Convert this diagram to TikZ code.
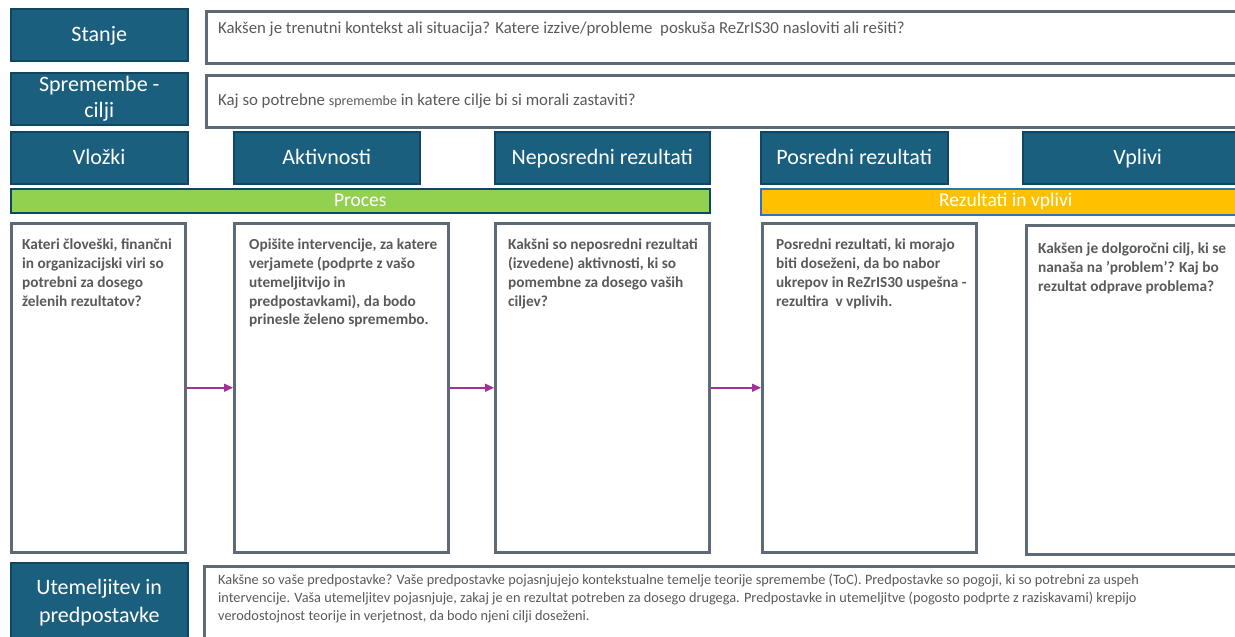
\documentclass[tikz,border=0pt]{standalone}
\usepackage{fontspec}
\setmainfont{Carlito}
\usetikzlibrary{arrows.meta}
\definecolor{kopf}{HTML}{1B5F7F}
\definecolor{kopfrob}{HTML}{0F4662}
\definecolor{siva}{HTML}{5E6A76}
\definecolor{besedilo}{HTML}{5A5A5A}
\definecolor{zelena}{HTML}{92D050}
\definecolor{rumena}{HTML}{FFC000}
\definecolor{modra}{HTML}{2E75B6}
\definecolor{vijola}{HTML}{A2309A}
\begin{document}
\begin{tikzpicture}[x=1pt, y=-1pt,
  glava/.style={draw=kopfrob, line width=1.5pt, fill=kopf, text=white,
    font=\fontsize{22}{28}\selectfont, align=center, inner sep=0pt,
    anchor=north west, minimum height=52pt},
  enovrst/.style={glava, text height=14pt, text depth=0pt},
  okvir/.style={draw=siva, line width=2.5pt, fill=white, inner sep=0pt, anchor=north west},
  vpis/.style={text=besedilo, inner sep=0pt, align=left},
  krepko/.style={vpis, anchor=north west, font=\fontsize{15.3}{18.7}\selectfont\bfseries},
  pas/.style={line width=1.5pt, text=white, inner sep=0pt, anchor=north west,
    minimum height=25pt, font=\fontsize{19.5}{22}\selectfont},
  tok/.style={draw=vijola, line width=1.5pt, -{Triangle[length=9pt,width=8pt]}}]
\clip (0,0) rectangle (1235,637);
\fill[white] (0,0) rectangle (1235,637);

% zgornji vrstici
\node[enovrst, minimum width=177pt] (stanje) at (10,8) {Stanje};
\node[okvir, minimum width=1050pt, minimum height=52pt] (stanjeOpis) at (205,10) {};
\node[vpis, anchor=west, font=\fontsize{16.8}{19}\selectfont] (stanjeTxt)
  at ([shift={(13,-8)}]stanjeOpis.west)
  {Kakšen je trenutni kontekst ali situacija? Katere izzive/probleme\ \ poskuša ReZrIS30 nasloviti ali rešiti?};

\node[glava, minimum width=177pt, font=\fontsize{22}{26}\selectfont] (cilji) at (10,72) {Spremembe -\\cilji};
\node[okvir, minimum width=1050pt, minimum height=52pt] (ciljiOpis) at (205,74) {};
\node[vpis, anchor=west, font=\fontsize{16.8}{19}\selectfont] (ciljiTxt)
  at ([shift={(13,0)}]ciljiOpis.west)
  {Kaj so potrebne {\fontsize{14}{16}\selectfont spremembe} in katere cilje bi si morali zastaviti?};

% glave stolpcev
\node[enovrst, minimum width=177pt] (vlozki) at (10,131) {Vložki};
\node[enovrst, minimum width=186pt] (akt) at (233,131) {Aktivnosti};
\node[enovrst, minimum width=215pt] (nep) at (494,131) {Neposredni rezultati};
\node[enovrst, minimum width=187pt] (pos) at (760,131) {Posredni rezultati};
\node[enovrst, minimum width=230pt] (vplivi) at (1022,131) {Vplivi};

% pasova
\node[pas, draw=kopfrob, fill=zelena, minimum width=699pt, minimum height=24pt] (proces) at (10,188) {Proces};
\node[pas, draw=modra, fill=rumena, minimum width=490pt, minimum height=26pt] (rezultati) at (760,188) {Rezultati in vplivi};

% okvirji z vprasanji
\node[okvir, minimum width=174pt, minimum height=329pt] (vlozkiOpis) at (10,222) {};
\node[okvir, minimum width=214pt, minimum height=329pt] (aktOpis) at (233,222) {};
\node[okvir, minimum width=214pt, minimum height=329pt] (nepOpis) at (494,222) {};
\node[okvir, minimum width=214pt, minimum height=329pt] (posOpis) at (761,222) {};
\node[okvir, minimum width=230pt, minimum height=329pt] (vpliviOpis) at (1025,224) {};

\node[krepko] (vlozkiTxt) at ([shift={(12,17)}]vlozkiOpis.north west)
  {Kateri človeški, finančni\\in organizacijski viri so\\potrebni za dosego\\želenih rezultatov?};
\node[krepko] (aktTxt) at ([shift={(16,17)}]aktOpis.north west)
  {Opišite intervencije, za katere\\verjamete (podprte z vašo\\utemeljitvijo in\\predpostavkami), da bodo\\prinesle želeno spremembo.};
\node[krepko] (nepTxt) at ([shift={(14,17)}]nepOpis.north west)
  {Kakšni so neposredni rezultati\\(izvedene) aktivnosti, ki so\\pomembne za dosego vaših\\ciljev?};
\node[krepko] (posTxt) at ([shift={(15,17)}]posOpis.north west)
  {Posredni rezultati, ki morajo\\biti doseženi, da bo nabor\\ukrepov in ReZrIS30 uspešna -\\rezultira\ \ v vplivih.};
\node[krepko] (vpliviTxt) at ([shift={(13,19)}]vpliviOpis.north west)
  {Kakšen je dolgoročni cilj, ki se\\nanaša na 'problem'? Kaj bo\\rezultat odprave problema?};

\draw[tok] (vlozkiOpis.east) -- (aktOpis.west);
\draw[tok] (aktOpis.east) -- (nepOpis.west);
\draw[tok] (nepOpis.east) -- (posOpis.west);

% spodnja vrstica
\node[glava, minimum width=177pt, minimum height=80pt, font=\fontsize{22}{28}\selectfont] (utem) at (10,562) {Utemeljitev in\\predpostavke};
\node[okvir, minimum width=1050pt, minimum height=80pt] (utemOpis) at (203,565) {};
\node[vpis, anchor=north west, font=\fontsize{14.3}{18}\selectfont] (utemTxt)
  at ([shift={(15,9)}]utemOpis.north west)
  {Kakšne so vaše predpostavke? Vaše predpostavke pojasnjujejo kontekstualne temelje teorije spremembe (ToC). Predpostavke so pogoji, ki so potrebni za uspeh\\
   intervencije. Vaša utemeljitev pojasnjuje, zakaj je en rezultat potreben za dosego drugega. Predpostavke in utemeljitve (pogosto podprte z raziskavami) krepijo\\
   verodostojnost teorije in verjetnost, da bodo njeni cilji doseženi.};
\end{tikzpicture}
\end{document}
